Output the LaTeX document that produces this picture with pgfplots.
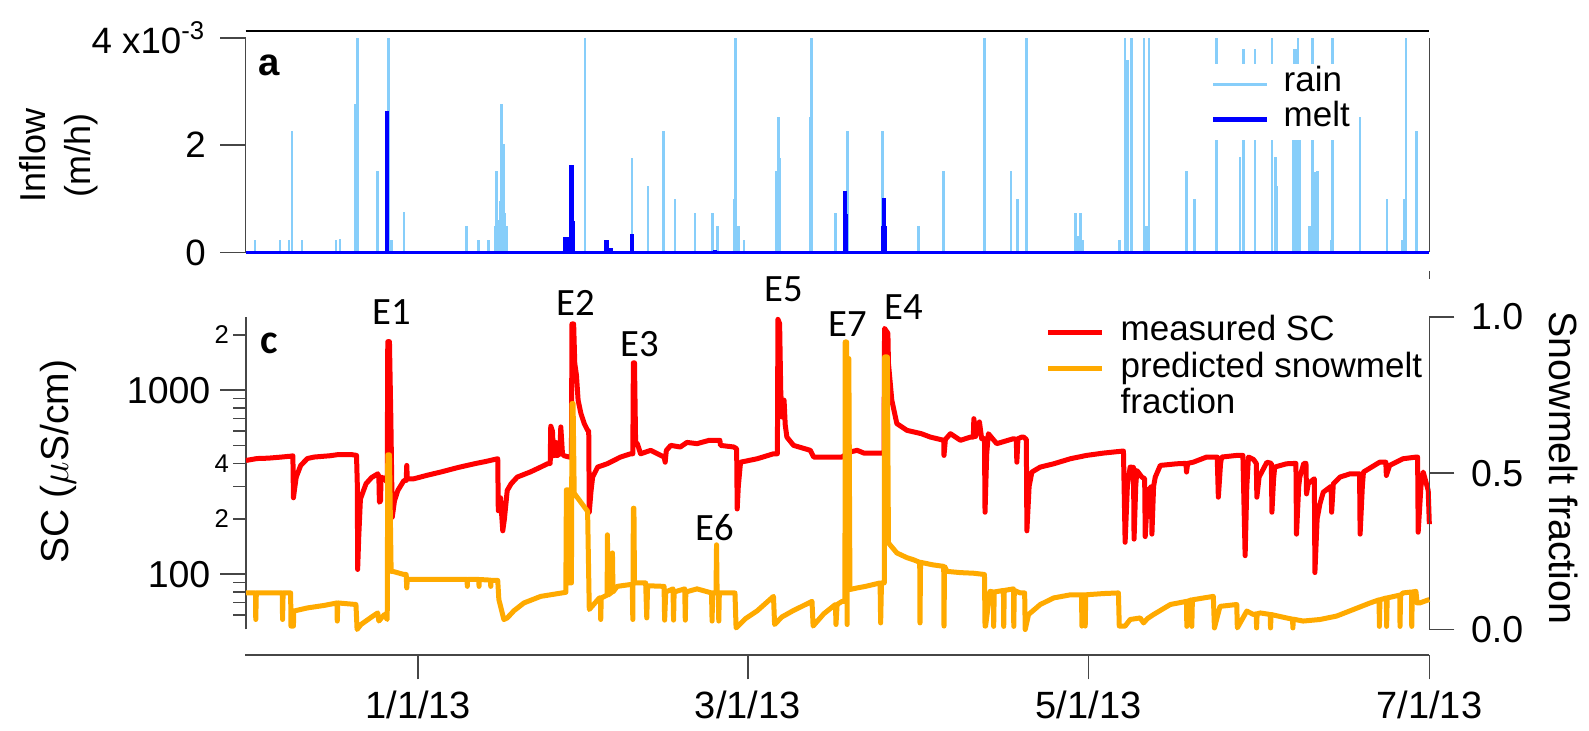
\documentclass[border=0pt]{standalone}
\usepackage{fontspec}
\setmainfont{Liberation Sans}
\newfontfamily\carlito{Carlito}
\usepackage{pgfplots}
\pgfplotsset{compat=1.18}
\definecolor{rain}{RGB}{135,206,250}
\definecolor{melt}{RGB}{0,0,255}
\definecolor{scred}{RGB}{255,0,0}
\definecolor{fracor}{RGB}{255,170,0}
\definecolor{axgray}{RGB}{70,70,70}
\begin{document}
\begin{tikzpicture}
\useasboundingbox (0,0) rectangle (476.7pt,219.3pt);
% ---------------- panel a ----------------
\begin{axis}[
  scale only axis, width=355.14pt, height=64.41pt,
  at={(73.65pt,143.55pt)}, anchor=south west,
  xmin=-31, xmax=181, ymin=0, ymax=4, clip=false,
  axis x line=none, axis y line*=left,
  axis line style={axgray, line width=0.45pt},
  ytick={0,2,4}, yticklabels={0,2,{4 x10\textsuperscript{-3}}},
  tick align=outside, major tick length=7.5pt,
  tick style={axgray, line width=0.45pt},
  yticklabel style={font=\fontsize{11}{13}\selectfont, inner xsep=4.2pt},
  unbounded coords=jump,
  legend image code/.code={\draw[#1] (0pt,0pt) -- (16.2pt,0pt);},
  legend cell align=left,
  legend style={at={(0.8105,0.8826)}, anchor=north west, draw=none, fill=white,
    inner xsep=1.5pt, inner ysep=1pt, font=\fontsize{10.5}{12}\selectfont,
    row sep=0pt, column sep=4.2pt,
    nodes={inner xsep=0pt, inner ysep=0pt, text height=7.5pt, text depth=3pt}},
]
\addplot[rain, line width=0.8pt, forget plot] coordinates {
(-29.3,0)(-29.3,0.23)(-29.3,nan) (-24.8,0)(-24.8,0.23)(-24.8,nan)
(-23.2,0)(-23.2,0.23)(-23.2,nan) (-22.7,0)(-22.7,2.27)(-22.7,nan)
(-20.9,0)(-20.9,0.23)(-20.9,nan) (-14.8,0)(-14.8,0.23)(-14.8,nan)
(-14.1,0)(-14.1,0.25)(-14.1,nan) (-11.3,0)(-11.3,2.77)(-11.3,nan)
(-11.0,0)(-11.0,4.0)(-11.0,nan) (-7.4,0)(-7.4,1.51)(-7.4,nan)
(-5.4,0)(-5.4,4.0)(-5.4,nan) (-4.8,0)(-4.8,0.23)(-4.8,nan)
(-2.6,0)(-2.6,0.75)(-2.6,nan) (8.6,0)(8.6,0.49)(8.6,nan)
(10.7,0)(10.7,0.23)(10.7,nan) (12.5,0)(12.5,0.23)(12.5,nan)
(13.7,0)(13.7,0.5)(13.7,nan) (14.0,0)(14.0,1.51)(14.0,nan)
(14.3,0)(14.3,0.6)(14.3,nan) (14.6,0)(14.6,0.96)(14.6,nan)
(14.9,0)(14.9,2.77)(14.9,nan) (15.2,0)(15.2,2.02)(15.2,nan)
(15.5,0)(15.5,0.73)(15.5,nan) (15.8,0)(15.8,0.5)(15.8,nan)
(29.8,0)(29.8,4.0)(29.8,nan) (38.2,0)(38.2,1.76)(38.2,nan)
(41.1,0)(41.1,1.24)(41.1,nan) (43.8,0)(43.8,2.27)(43.8,nan)
(45.9,0)(45.9,1.0)(45.9,nan) (49.5,0)(49.5,0.73)(49.5,nan)
(52.6,0)(52.6,0.73)(52.6,nan) (53.5,0)(53.5,0.49)(53.5,nan)
(56.5,0)(56.5,1.0)(56.5,nan) (56.8,0)(56.8,4.0)(56.8,nan)
(57.3,0)(57.3,0.49)(57.3,nan) (58.3,0)(58.3,0.23)(58.3,nan)
(64.1,0)(64.1,1.51)(64.1,nan) (64.5,0)(64.5,2.52)(64.5,nan)
(64.7,0)(64.7,1.76)(64.7,nan) (70.1,0)(70.1,2.52)(70.1,nan)
(70.4,0)(70.4,4.0)(70.4,nan) (74.6,0)(74.6,0.73)(74.6,nan)
(76.8,0)(76.8,2.27)(76.8,nan) (83.1,0)(83.1,2.27)(83.1,nan)
(89.5,0)(89.5,0.5)(89.5,nan) (94.0,0)(94.0,1.51)(94.0,nan)
(101.3,0)(101.3,4.0)(101.3,nan) (106.1,0)(106.1,1.51)(106.1,nan)
(107.3,0)(107.3,1.0)(107.3,nan) (108.9,0)(108.9,4.0)(108.9,nan)
(117.6,0)(117.6,0.73)(117.6,nan) (118.0,0)(118.0,0.3)(118.0,nan)
(118.5,0)(118.5,0.73)(118.5,nan) (119.0,0)(119.0,0.23)(119.0,nan)
(125.5,0)(125.5,0.23)(125.5,nan) (126.5,0)(126.5,4.0)(126.5,nan)
(126.9,0)(126.9,3.58)(126.9,nan) (127.7,0)(127.7,4.0)(127.7,nan)
(129.9,0)(129.9,4.0)(129.9,nan) (130.3,0)(130.3,0.49)(130.3,nan)
(130.8,0)(130.8,4.0)(130.8,nan) (137.5,0)(137.5,1.51)(137.5,nan)
(139.0,0)(139.0,1.0)(139.0,nan) (142.9,0)(142.9,4.0)(142.9,nan)
(147.1,0)(147.1,1.77)(147.1,nan) (147.7,0)(147.7,3.79)(147.7,nan)
(149.8,0)(149.8,3.79)(149.8,nan) (152.8,0)(152.8,4.0)(152.8,nan)
(153.4,0)(153.4,1.77)(153.4,nan) (153.7,0)(153.7,1.24)(153.7,nan)
(156.6,0)(156.6,3.0)(156.6,nan) (156.9,0)(156.9,3.79)(156.9,nan)
(157.2,0)(157.2,3.79)(157.2,nan) (157.5,0)(157.5,4.0)(157.5,nan)
(157.8,0)(157.8,3.0)(157.8,nan) (159.6,0)(159.6,0.5)(159.6,nan)
(160.1,0)(160.1,4.0)(160.1,nan) (160.5,0)(160.5,1.5)(160.5,nan)
(161.0,0)(161.0,1.51)(161.0,nan) (163.4,0)(163.4,0.23)(163.4,nan)
(163.7,0)(163.7,4.0)(163.7,nan) (168.6,0)(168.6,2.52)(168.6,nan)
(173.4,0)(173.4,1.0)(173.4,nan) (176.1,0)(176.1,0.23)(176.1,nan)
(176.5,0)(176.5,1.0)(176.5,nan) (176.8,0)(176.8,4.0)(176.8,nan)
(178.7,0)(178.7,2.27)(178.7,nan)
};
\addplot[melt, line width=1.1pt, forget plot] coordinates {(-31,0) (181,0)};
\addplot[melt, line width=1.2pt, forget plot] coordinates {
(-5.6,0)(-5.6,2.63)(-5.6,nan) (26.3,0)(26.3,0.29)(26.3,nan)
(26.6,0)(26.6,0.29)(26.6,nan) (27.3,0)(27.3,1.63)(27.3,nan)
(27.5,0)(27.5,1.63)(27.5,nan) (27.7,0)(27.7,0.59)(27.7,nan)
(33.5,0)(33.5,0.24)(33.5,nan) (33.7,0)(33.7,0.24)(33.7,nan)
(34.5,0)(34.5,0.09)(34.5,nan) (38.3,0)(38.3,0.35)(38.3,nan)
(53.1,0)(53.1,0.05)(53.1,nan) (76.4,0)(76.4,1.14)(76.4,nan)
(76.6,0)(76.6,0.72)(76.6,nan) (83.1,0)(83.1,0.5)(83.1,nan)
(83.4,0)(83.4,1.01)(83.4,nan) (83.6,0)(83.6,0.5)(83.6,nan)
};
\addlegendimage{rain, line width=0.8pt}\addlegendentry{rain}
\addlegendimage{melt, line width=1.5pt}\addlegendentry{melt}
\draw[axgray, line width=0.45pt] (rel axis cs:1,0) -- (rel axis cs:1,1);
\draw[black, line width=0.5pt] (rel axis cs:0,1.0317) -- (rel axis cs:1,1.0317);
\end{axis}
% ---------------- panel c, left (SC) ----------------
\begin{axis}[
  scale only axis, width=355.0pt, height=93.75pt,
  at={(73.8pt,30.45pt)}, anchor=south west,
  xmin=-31, xmax=181, ymode=log, ymin=50, ymax=2500, clip=false,
  axis x line=none, axis y line*=left,
  axis line style={axgray, line width=0.45pt},
  tick style={axgray, line width=0.45pt},
  ytick={100,1000}, yticklabels={100,1000},
  minor ytick={60,70,80,90,300,500,600,700,800,900},
  extra y ticks={200,400,2000}, extra y tick labels={2,4,2},
  extra y tick style={major tick length=3.9pt,
    yticklabel style={font=\fontsize{7.7}{9}\selectfont, inner xsep=1pt}},
  tick align=outside, major tick length=7.7pt, minor tick length=3.9pt,
  yticklabel style={font=\fontsize{11.25}{13}\selectfont, inner xsep=2.8pt},
]
\addplot[scred, line width=1.5pt, line join=round] coordinates {
(-31.0,415)(-29.0,425)(-27.0,427)(-25.0,432)(-22.9,438)(-22.6,440)(-22.5,260)(-22.3,290)
(-22.0,337)(-21.2,390)(-20.0,425)(-18.8,433)(-16.0,440)(-14.6,446)(-12.0,446)(-11.2,442)
(-11.05,300)(-11.0,106)(-10.8,160)(-10.5,256)(-9.5,310)(-8.5,335)(-7.4,351)(-7.2,340)
(-7.1,246)(-6.9,250)(-6.8,337)(-6.2,330)(-5.7,316)(-5.6,1836)(-5.3,1836)(-5.05,700)
(-4.8,204)(-4.4,250)(-3.8,285)(-2.7,323)(-2.3,323)(-2.2,390)(-2.1,330)(-0.9,330)
(1.5,345)(3.9,359)(7.0,380)(9.9,398)(12.0,410)(14.1,424)(14.2,221)(14.6,260)
(15.0,172)(15.3,200)(15.8,285)(16.5,310)(17.6,337)(20.0,360)(21.8,382)(23.0,398)
(23.5,400)(23.6,637)(23.9,600)(24.1,440)(24.5,520)(24.7,440)(25.2,450)(25.4,631)
(25.7,450)(26.0,440)(26.9,433)(27.3,433)(27.4,2291)(27.7,2291)(27.9,1400)(28.2,1207)
(28.5,882)(29.0,747)(29.6,658)(30.2,605)(30.4,600)(30.5,217)(30.8,280)(31.1,337)
(32.0,382)(33.7,398)(36.1,433)(37.9,451)(38.3,451)(38.4,1409)(38.6,1409)(38.8,520)
(39.1,512)(39.7,451)(41.5,471)(43.9,433)(44.1,406)(44.3,470)(45.1,501)(46.8,491)
(48.0,520)(49.8,512)(52.0,534)(53.9,534)(54.0,501)(56.4,491)(56.9,480)(57.0,226)
(57.2,300)(57.6,406)(60.6,424)(63.5,451)(64.2,451)(64.3,2427)(64.6,2300)(64.8,1000)
(65.0,716)(65.4,882)(65.6,650)(65.9,556)(67.1,501)(70.1,471)(70.7,433)(74.6,433)
(75.8,433)(77.0,460)(78.5,471)(79.7,455)(82.6,455)(83.3,455)(83.4,2168)(84.0,2037)
(84.1,1397)(84.7,882)(85.6,658)(87.4,605)(90.0,580)(91.6,556)(94.0,534)(94.05,442)
(94.3,540)(95.2,580)(97.0,534)(98.8,556)(99.3,556)(99.4,700)(99.7,560)(100.4,672)
(100.8,545)(101.3,545)(101.4,217)(101.7,450)(102.0,580)(103.5,512)(106.5,545)(107.0,540)
(107.1,406)(107.3,545)(108.0,556)(108.3,556)(108.8,540)(108.9,172)(109.3,300)(109.8,359)
(111.3,382)(113.7,398)(116.7,424)(119.6,442)(122.6,455)(126.2,467)(126.5,149)(126.9,300)
(127.4,382)(128.0,380)(128.1,155)(128.4,300)(128.6,366)(129.5,337)(130.0,330)(130.1,160)
(130.5,260)(130.7,285)(131.2,300)(131.3,165)(131.6,300)(131.9,337)(132.8,390)(135.7,398)
(137.4,400)(137.5,359)(137.7,400)(138.7,406)(141.1,433)(143.0,433)(143.2,262)(143.6,400)
(143.8,433)(146.5,442)(147.6,442)(148.0,126)(148.3,300)(148.6,433)(149.5,420)(150.0,400)
(150.1,262)(150.5,337)(151.9,406)(152.7,400)(152.8,217)(153.1,330)(153.3,382)(155.4,398)
(157.1,400)(157.2,165)(157.6,300)(157.8,337)(158.5,400)(158.9,400)(159.0,273)(159.3,310)
(159.6,316)(160.4,330)(160.5,102)(160.9,200)(161.4,241)(162.0,279)(163.4,300)(163.5,217)
(163.8,310)(165.0,337)(166.8,351)(168.5,351)(168.6,165)(169.0,300)(169.2,359)(172.1,406)
(173.2,406)(173.3,344)(173.9,390)(176.3,424)(178.7,433)(178.9,433)(179.0,169)(179.5,300)
(179.9,359)(180.8,285)(181.0,187)
};
\end{axis}
% ---------------- panel c, right (fraction) ----------------
\begin{axis}[
  scale only axis, width=355.0pt, height=93.75pt,
  at={(73.8pt,30.45pt)}, anchor=south west,
  xmin=-31, xmax=181, ymin=0, ymax=1, clip=false,
  axis x line=none, axis y line*=right,
  axis line style={axgray, line width=0.45pt},
  tick style={axgray, line width=0.45pt},
  ytick={0,0.5,1}, yticklabels={0.0,0.5,1.0},
  tick align=outside, major tick length=7.5pt,
  yticklabel style={font=\fontsize{11.25}{13}\selectfont, inner xsep=4.8pt},
  legend image code/.code={\draw[#1] (0pt,0pt) -- (16.2pt,0pt);},
  legend cell align=left,
  legend style={at={(0.6752,1.0118)}, anchor=north west, draw=none, fill=none,
    inner sep=0pt, font=\fontsize{10.5}{12}\selectfont,
    row sep=0pt, column sep=4.8pt,
    nodes={inner xsep=0pt, inner ysep=0pt, text height=8pt, text depth=3pt}},
]
\addlegendimage{scred, line width=1.5pt}\addlegendentry{measured SC}
\addplot[fracor, line width=1.5pt, line join=round] coordinates {
(-31.0,0.117)(-29.3,0.117)(-29.25,0.032)(-29.15,0.117)(-24.5,0.117)(-24.45,0.032)(-24.35,0.117)
(-23.0,0.117)(-22.95,0.011)(-22.5,0.011)(-22.45,0.059)(-20.0,0.069)(-17.0,0.077)(-14.7,0.085)
(-14.65,0.027)(-14.55,0.085)(-11.3,0.080)(-11.1,0.0)(-10.4,0.016)(-8.5,0.040)(-7.4,0.053)
(-7.2,0.027)(-6.2,0.048)(-5.7,0.032)(-5.6,0.559)(-5.3,0.559)(-5.0,0.186)(-4.7,0.186)
(-2.7,0.176)(-2.3,0.176)(-2.2,0.133)(-2.1,0.160)(8.6,0.160)(8.65,0.138)(8.7,0.160)
(10.7,0.160)(10.75,0.138)(10.8,0.160)(12.8,0.158)(12.85,0.138)(12.9,0.157)(14.1,0.157)
(14.3,0.096)(15.2,0.032)(15.8,0.037)(17.0,0.060)(18.8,0.085)(21.8,0.106)(26.3,0.119)
(26.4,0.447)(26.7,0.447)(26.8,0.149)(27.3,0.149)(27.4,0.723)(27.6,0.723)(27.8,0.436)
(30.2,0.378)(30.5,0.064)(32.3,0.101)(32.5,0.101)(32.55,0.032)(32.65,0.101)(33.7,0.110)
(33.75,0.303)(33.85,0.110)(34.6,0.120)(34.65,0.245)(34.75,0.120)(35.5,0.138)(37.9,0.144)
(38.2,0.144)(38.3,0.032)(38.4,0.388)(38.5,0.388)(38.6,0.149)(40.6,0.149)(40.8,0.037)
(40.95,0.140)(43.9,0.138)(44.0,0.03)(44.2,0.12)(45.5,0.13)(45.6,0.03)(45.7,0.12)
(47.6,0.13)(47.7,0.03)(47.8,0.12)(49.8,0.13)(52.4,0.117)(52.5,0.027)(52.6,0.117)
(53.2,0.117)(53.3,0.271)(53.4,0.117)(53.6,0.117)(53.7,0.027)(53.8,0.117)(56.6,0.117)
(56.8,0.005)(58.5,0.035)(60.6,0.06)(63.5,0.106)(63.7,0.016)(65.0,0.04)(67.0,0.06)
(70.4,0.090)(70.6,0.011)(72.5,0.05)(74.6,0.080)(74.7,0.016)(74.9,0.080)(75.8,0.090)
(76.3,0.090)(76.35,0.920)(76.6,0.920)(76.7,0.016)(76.8,0.867)(77.0,0.867)(77.2,0.128)
(78.5,0.133)(80.0,0.138)(82.6,0.149)(82.7,0.021)(82.85,0.149)(83.35,0.149)(83.4,0.872)
(83.9,0.872)(84.1,0.277)(85.6,0.245)(87.4,0.230)(88.6,0.223)(89.7,0.215)(89.75,0.021)
(89.85,0.215)(90.4,0.213)(92.0,0.207)(94.0,0.202)(94.05,0.011)(94.15,0.202)(94.6,0.186)
(97.0,0.182)(99.4,0.180)(101.3,0.176)(101.4,0.011)(101.5,0.011)(102.3,0.122)(102.9,0.120)
(102.95,0.01)(103.05,0.12)(104.7,0.125)(104.75,0.01)(104.85,0.125)(106.5,0.13)(106.55,0.01)
(106.65,0.125)(107.7,0.117)(108.5,0.117)(108.6,0.0)(109.2,0.048)(111.3,0.080)(113.7,0.101)
(116.7,0.111)(118.7,0.111)(118.75,0.011)(118.85,0.111)(119.3,0.111)(119.35,0.011)(119.45,0.111)
(122.6,0.115)(125.3,0.117)(125.45,0.011)(126.5,0.011)(127.4,0.032)(128.5,0.035)(129.2,0.037)
(129.8,0.021)(130.5,0.035)(131.6,0.048)(134.6,0.080)(137.5,0.090)(137.55,0.01)(137.65,0.09)
(138.4,0.095)(138.45,0.01)(138.55,0.095)(142.3,0.106)(142.5,0.005)(143.5,0.074)(146.5,0.080)
(146.6,0.005)(148.3,0.059)(149.5,0.048)(150.0,0.05)(150.05,0.005)(150.15,0.05)(150.7,0.053)
(152.5,0.048)(152.55,0.005)(152.65,0.048)(155.4,0.037)(156.5,0.033)(156.55,0.005)(156.65,0.033)
(158.4,0.027)(161.4,0.032)(164.4,0.043)(167.4,0.064)(170.4,0.085)(172.0,0.095)(172.05,0.01)
(172.15,0.095)(173.3,0.101)(173.35,0.01)(173.45,0.101)(175.7,0.11)(175.75,0.01)(175.85,0.11)
(176.3,0.117)(177.8,0.12)(177.85,0.01)(177.95,0.12)(178.6,0.122)(178.8,0.085)(179.3,0.085)
(181.0,0.096)
};
\addlegendentry{predicted snowmelt}
\addlegendimage{empty legend}\addlegendentry{fraction}
\end{axis}
% ---------------- shared x axis ----------------
\begin{axis}[
  scale only axis, width=355.3pt, height=10pt,
  at={(73.5pt,22.8pt)}, anchor=south west,
  xmin=-31, xmax=181, ymin=0, ymax=1,
  axis y line=none, axis x line*=bottom,
  axis line style={axgray, line width=0.45pt},
  tick style={axgray, line width=0.45pt},
  xtick={0,59,120,181}, xticklabels={1/1/13,3/1/13,5/1/13,7/1/13},
  tick align=outside, major tick length=7.3pt,
  xticklabel style={font=\fontsize{11.4}{13}\selectfont},
]
\end{axis}
% ---------------- annotations ----------------
\draw[axgray, line width=0.45pt] (428.8pt,138pt) -- (428.8pt,135.6pt);
\node[font=\fontsize{11.5}{13}\selectfont\bfseries] at (80.7pt,199.8pt) {a};
\node[font=\carlito\fontsize{12.5}{14}\selectfont\bfseries] at (80.85pt,116.4pt) {c};
\begin{scope}[every node/.style={font=\carlito\fontsize{11.6}{13}\selectfont, inner sep=0pt}]
\node at (117.5pt,125.55pt) {E1};
\node at (172.8pt,128.4pt) {E2};
\node at (192.0pt,116.1pt) {E3};
\node at (235.2pt,132.6pt) {E5};
\node at (254.25pt,122.1pt) {E7};
\node at (271.2pt,127.05pt) {E4};
\node at (214.4pt,61.05pt) {E6};
\end{scope}
\node[rotate=90, align=center, font=\fontsize{10.8}{13.5}\selectfont] at (17.55pt,172.56pt) {Inflow\\(m/h)};
\node[rotate=90, font=\fontsize{11.7}{14}\selectfont] at (17.4pt,80.8pt) {SC ($\mu$S/cm)};
\node[rotate=-90, font=\fontsize{11.8}{14}\selectfont] at (469.05pt,78.9pt) {Snowmelt fraction};
\end{tikzpicture}
\end{document}
